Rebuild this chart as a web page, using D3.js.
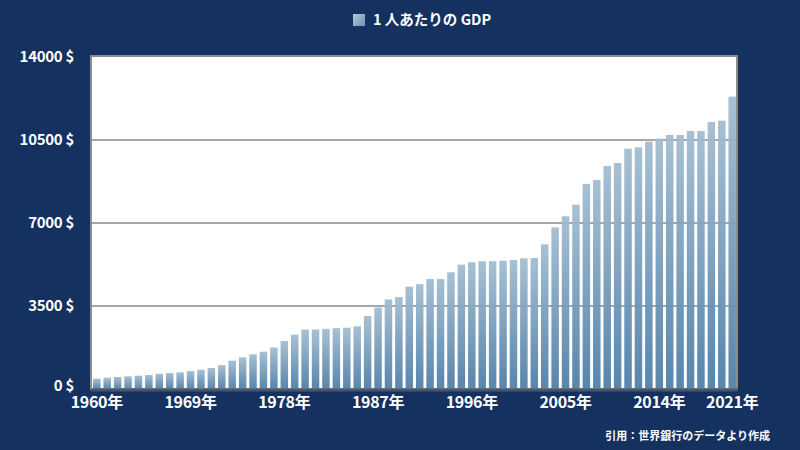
<!DOCTYPE html>
<html>
<head>
<meta charset="utf-8">
<script src="https://cdn.jsdelivr.net/npm/d3@7/dist/d3.min.js"></script>
<style>
html,body{margin:0;padding:0;background:#15315f;}
svg{display:block;}
text{font-family:"Noto Sans CJK JP","Noto Sans",sans-serif;font-weight:bold;fill:#ffffff;}
</style>
</head>
<body>
<svg id="chart" width="800" height="450"></svg>
<script>
const years = d3.range(1960, 2022).map(y => y + "年");
const gdpPerCapita = [
  434, 477, 506, 535, 561, 590, 645, 675, 704, 759,
  814, 886, 1005, 1194, 1336, 1463, 1573, 1750, 2024, 2290,
  2510, 2510, 2537, 2566, 2585, 2644, 3078, 3435, 3775, 3880,
  4314, 4420, 4639, 4639, 4921, 5242, 5343, 5385, 5390, 5411,
  5440, 5510, 5524, 6100, 6817, 7283, 7772, 8650, 8813, 9404,
  9530, 10134, 10190, 10430, 10557, 10711, 10711, 10880, 10880, 11260,
  11316, 12327
];
const yTicks = [0, 3500, 7000, 10500, 14000];
const xTickLabels = ["1960年", "1969年", "1978年", "1987年", "1996年", "2005年", "2014年", "2021年"];
const legendLabel = "1 人あたりの GDP";
const sourceNote = "引用：世界銀行のデータより作成";

const svg = d3.select("#chart");
const W = 800, H = 450;
const plot = {left: 91, right: 737, top: 56, bottom: 389};

svg.append("rect").attr("width", W).attr("height", H).attr("fill", "#15315f");

const defs = svg.append("defs");
const grad = defs.append("linearGradient").attr("id", "barGrad")
  .attr("x1", 0).attr("y1", 0).attr("x2", 0).attr("y2", 1);
grad.append("stop").attr("offset", "0%").attr("stop-color", "#a3bdd1");
grad.append("stop").attr("offset", "100%").attr("stop-color", "#4f7fa8");
const lg = defs.append("linearGradient").attr("id", "legGrad")
  .attr("x1", 0).attr("y1", 0).attr("x2", 1).attr("y2", 1);
lg.append("stop").attr("offset", "0%").attr("stop-color", "#b4c8d8");
lg.append("stop").attr("offset", "100%").attr("stop-color", "#6d93b5");

const x = d3.scaleBand().domain(years).range([plot.left + 1, plot.right]).paddingInner(0.28).paddingOuter(0.1);
const y = d3.scaleLinear().domain([0, 14000]).range([plot.bottom, plot.top + 1]);

// plot background
svg.append("rect")
  .attr("x", plot.left).attr("y", plot.top)
  .attr("width", plot.right - plot.left).attr("height", plot.bottom - plot.top)
  .attr("fill", "#ffffff");

// gridlines
svg.append("g").selectAll("line").data(yTicks.filter(t => t > 0 && t < 14000)).join("line")
  .attr("x1", plot.left).attr("x2", plot.right)
  .attr("y1", d => y(d)).attr("y2", d => y(d))
  .attr("stroke", "#8a8a8a").attr("stroke-width", 1.5);

// bars
svg.append("g").selectAll("rect").data(gdpPerCapita).join("rect")
  .attr("x", (d, i) => x(years[i]))
  .attr("width", x.bandwidth())
  .attr("y", d => y(d))
  .attr("height", d => y(0) - y(d))
  .attr("fill", "url(#barGrad)")
  .attr("opacity", 0.95);

// frame
svg.append("rect")
  .attr("x", plot.left).attr("y", plot.top)
  .attr("width", plot.right - plot.left).attr("height", plot.bottom - plot.top)
  .attr("fill", "none").attr("stroke", "#8c8c8c").attr("stroke-width", 2);
svg.append("line")
  .attr("x1", plot.left).attr("x2", plot.right + 1)
  .attr("y1", plot.bottom + 1).attr("y2", plot.bottom + 1)
  .attr("stroke", "#46566f").attr("stroke-width", 3);

// y axis
const yAxis = d3.axisLeft(y).tickValues(yTicks).tickSize(0).tickPadding(0)
  .tickFormat(d => d + " $");
const gy = svg.append("g").attr("transform", `translate(${plot.left - 17},0)`).call(yAxis);
gy.select(".domain").remove();
gy.selectAll("text").attr("font-size", 15).attr("fill", "#ffffff").attr("letter-spacing", "-0.3")
  .style("font-family", "'Noto Sans CJK JP', sans-serif").style("font-weight", "bold");
gy.selectAll(".tick").filter(d => d === 0).select("text").attr("dy", "0.1em");

// x axis
const xAxis = d3.axisBottom(x).tickValues(xTickLabels).tickSize(0).tickPadding(0);
const gx = svg.append("g").attr("transform", `translate(0,${plot.bottom + 8})`).call(xAxis);
gx.select(".domain").remove();
gx.selectAll("text").attr("font-size", 16).attr("fill", "#ffffff").attr("letter-spacing", "-0.3")
  .style("font-family", "'Noto Sans CJK JP', sans-serif").style("font-weight", "bold");

// legend
svg.append("rect").attr("x", 353).attr("y", 14).attr("width", 12).attr("height", 12)
  .attr("fill", "url(#legGrad)");
svg.append("text").attr("x", 373).attr("y", 20).attr("dy", "0.35em")
  .attr("font-size", 14.5).text(legendLabel);

// source
svg.append("text").attr("x", 770).attr("y", 436).attr("dy", "0.35em")
  .attr("text-anchor", "end").attr("font-size", 11).text(sourceNote);
</script>
</body>
</html>
